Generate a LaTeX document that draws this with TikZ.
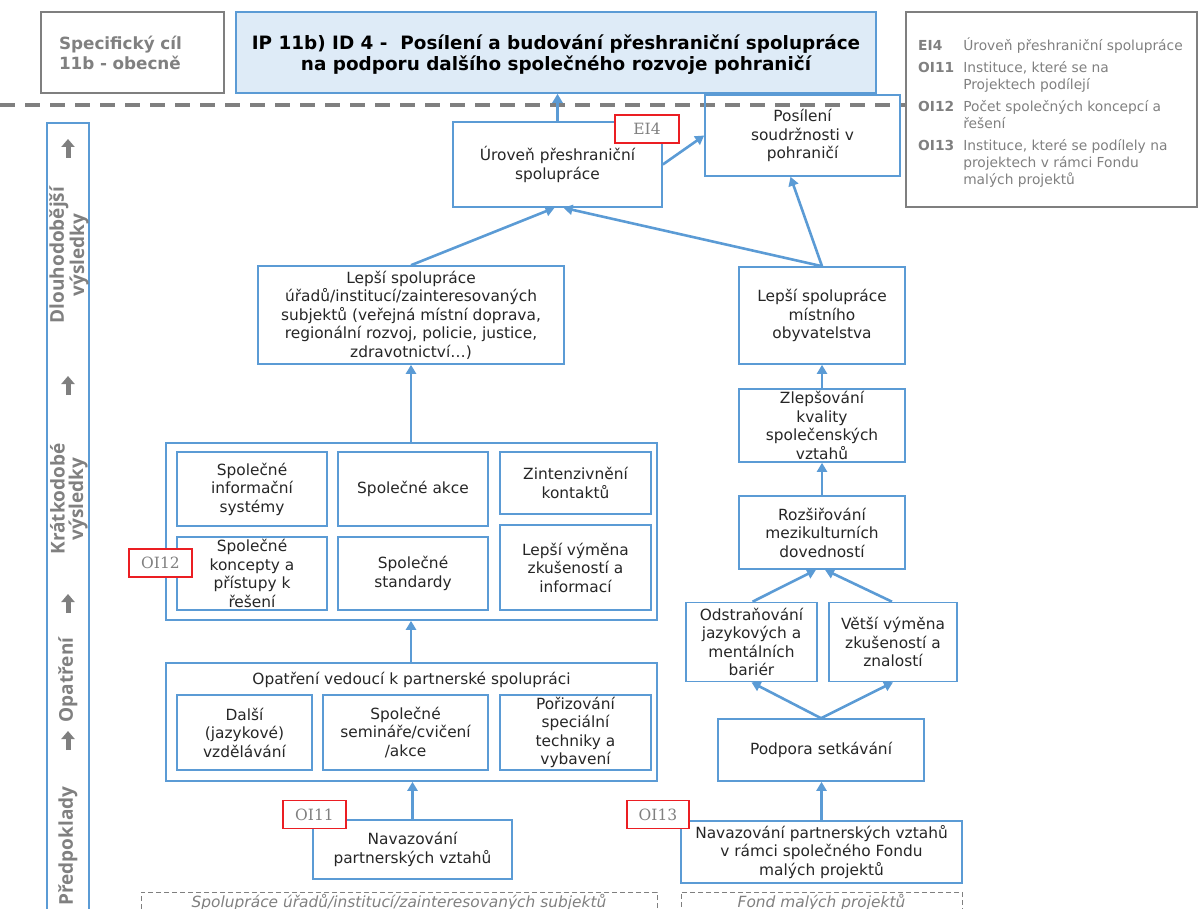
\documentclass[tikz,border=0pt]{standalone}
\usepackage{fontspec}
\setmainfont{DejaVu Sans}
\newfontfamily\bandfnt{Open Sans}
\newfontfamily\indfam{DejaVu Serif}
\usetikzlibrary{arrows.meta}

\definecolor{blu}{RGB}{91,155,213}
\definecolor{lblu}{RGB}{222,235,247}
\definecolor{grayln}{RGB}{127,127,127}
\definecolor{graytx}{RGB}{128,128,128}
\definecolor{redln}{RGB}{235,30,35}
\definecolor{txt}{RGB}{38,38,38}

\newcommand\txtfnt{\fontsize{15.4}{18.5}\selectfont}
\newcommand\titfnt{\bfseries\fontsize{18.4}{21}\selectfont}
\newcommand\specfnt{\bfseries\fontsize{16.8}{20}\selectfont}
\newcommand\legfnt{\fontsize{13.8}{17}\selectfont}
\newcommand\indfnt{\indfam\fontsize{15.5}{17}\selectfont}

\begin{document}
\begin{tikzpicture}[x=1pt,y=-1pt,
   box/.style={draw=blu,line width=1.6pt,inner sep=0pt,align=center,text=txt,font=\txtfnt},
   ind/.style={draw=redln,line width=1.6pt,fill=white,inner sep=0pt,text=graytx,font=\indfnt,
      minimum width=63,minimum height=28},
   arr/.style={draw=blu,line width=2.6pt,-{Triangle[length=9pt,width=10pt]}},
   uparr/.style={draw=grayln,line width=5pt,-{Triangle[length=8pt,width=13pt]}},
   band/.style={rotate=90,align=center,text=graytx,font=\bandfnt\bfseries\fontsize{19}{18.5}\selectfont},
   dbox/.style={draw=grayln,line width=1pt,dash pattern=on 5pt off 3pt,inner sep=0pt,
      text=graytx,font=\txtfnt\itshape}]
\useasboundingbox (0,0) rectangle (1198,909);

% top row
\node[draw=grayln,line width=1.6pt,minimum width=183,minimum height=81,inner xsep=18pt,
   text width=147,align=left,text=graytx,font=\specfnt] (spec) at (132.5,52.5)
   {Specifický cíl\\11b - obecně};
\node[draw=blu,fill=lblu,line width=1.6pt,minimum width=640,minimum height=81,inner sep=0pt,
   text=black,font=\titfnt] (tit) at (556,52.5)
   {\raisebox{-3.5pt}[\height][\depth]{\begin{tabular}{@{}c@{}}IP 11b) ID 4 -\ \ Posílení a budování přeshraniční spolupráce\\na podporu dalšího společného rozvoje pohraničí\end{tabular}}};
\node[draw=grayln,line width=1.6pt,minimum width=291,minimum height=195,inner sep=0pt] (leg) at (1051.5,109.5) {};
\node[anchor=north west,inner sep=0pt,font=\legfnt,text=graytx] (legt) at (918,38) {%
   \begin{tabular}{@{}l@{\hspace{9pt}}l@{}}
   \textbf{EI4} & Úroveň přeshraniční spolupráce\\[5pt]
   \textbf{OI11} & Instituce, které se na\\
    & Projektech podílejí\\[5pt]
   \textbf{OI12} & Počet společných koncepcí a\\
    & řešení\\[5pt]
   \textbf{OI13} & Instituce, které se podílely na\\
    & projektech v rámci Fondu\\
    & malých projektů
   \end{tabular}};

\coordinate (dl) at (0,105);
\draw[grayln,line width=3.5pt,dash pattern=on 15pt off 10pt] (dl) -- (dl -| leg.west);

% left band
\node[draw=blu,line width=1.6pt,minimum width=42,minimum height=800,anchor=north] (bnd) at (68,122) {};
\foreach \y/\n in {148/1,385/2,603/3,740/4}
   \coordinate (ua\n) at (68,\y);
\foreach \n in {1,...,4}
   \draw[uparr] ([yshift=-10pt]ua\n) -- ([yshift=9pt]ua\n);
\node[band] (b1) at (69,255) {Dlouhodobější\\výsledky};
\node[band] (b2) at (69,499) {Krátkodobé\\výsledky};
\node[band] (b3) at (68,680) {Opatření};
\node[band] (b4) at (68,846) {Předpoklady};

% long term results
\node[box,minimum width=209,minimum height=85] (ur) at (557.5,164.5) {Úroveň přeshraniční\\spolupráce};
\node[ind,minimum width=64] (ei4) at (647,129) {EI4};
\node[box,minimum width=195,minimum height=81] (pos) at (802.5,135.5) {Posílení\\soudržnosti v\\pohraničí};
\node[box,minimum width=306,minimum height=98] (lu) at (411,315)
   {Lepší spolupráce\\úřadů/institucí/zainteresovaných\\subjektů (veřejná místní doprava,\\regionální rozvoj, policie, justice,\\zdravotnictví…)};
\node[box,minimum width=166,minimum height=97] (lm) at (822,315.5) {Lepší spolupráce\\místního\\obyvatelstva};

% short term results
\node[draw=blu,line width=1.6pt,minimum width=491,minimum height=177] (g1) at (411.5,531.5) {};
\node[box,minimum width=150,minimum height=74] (s11) at (252,489) {Společné\\informační\\systémy};
\node[box,minimum width=150,minimum height=74] (s12) at (413,489) {Společné akce};
\node[box,minimum width=151,minimum height=62] (s13) at (575.5,483) {Zintenzivnění\\kontaktů};
\node[box,minimum width=150,minimum height=73] (s21) at (252,573.5) {Společné\\koncepty a\\přístupy k\\řešení};
\node[box,minimum width=150,minimum height=73] (s22) at (413,573.5) {Společné\\standardy};
\node[box,minimum width=151,minimum height=85] (s23) at (575.5,567.5) {Lepší výměna\\zkušeností a\\informací};
\node[ind] (oi12) at (160.5,563) {OI12};
\node[box,minimum width=166,minimum height=73] (zl) at (822,425.5) {Zlepšování\\kvality\\společenských\\vztahů};
\node[box,minimum width=166,minimum height=73] (rz) at (822,532.5) {Rozšiřování\\mezikulturních\\dovedností};

% measures
\node[draw=blu,line width=1.6pt,minimum width=491,minimum height=118] (g2) at (411.5,722) {};
\node[text=txt,font=\txtfnt,inner sep=0pt] (g2t) at (411.5,680) {Opatření vedoucí k partnerské spolupráci};
\node[box,minimum width=135,minimum height=75] (m1) at (244.5,732.5) {Další\\(jazykové)\\vzdělávání};
\node[box,minimum width=165,minimum height=75] (m2) at (405.5,732.5) {Společné\\semináře/cvičení\\/akce};
\node[box,minimum width=151,minimum height=75] (m3) at (575.5,732.5) {Pořizování\\speciální\\techniky a\\vybavení};
\node[box,minimum width=131,minimum height=79] (od) at (751.5,642) {Odstraňování\\jazykových a\\mentálních\\bariér};
\node[box,minimum width=128,minimum height=79] (vv) at (893,642) {Větší výměna\\zkušeností a\\znalostí};
\node[box,minimum width=206,minimum height=62] (po) at (821,750) {Podpora setkávání};

% preconditions
\node[box,minimum width=199,minimum height=59] (nv1) at (412.5,849.5) {Navazování\\partnerských vztahů};
\node[ind] (oi11) at (314.5,814.5) {OI11};
\node[box,minimum width=281,minimum height=62] (nv2) at (821.5,852) {Navazování partnerských vztahů\\v rámci společného Fondu\\malých projektů};
\node[ind,minimum width=62] (oi13) at (658,814.5) {OI13};
\node[dbox,minimum width=516,minimum height=20] (dsp) at (399,902) {Spolupráce úřadů/institucí/zainteresovaných subjektů};
\node[dbox,minimum width=281,minimum height=20] (dfo) at (821.5,902) {Fond malých projektů};

% connectors
\draw[arr] (ur.north) -- (ur.north |- tit.south);
\draw[arr] (ur.east) -- (pos.west);
\draw[arr] (lm.north) -- ([xshift=-12pt]pos.south);
\draw[arr] (lm.north) -- ([xshift=6pt]ur.south);
\draw[arr] (lu.north) -- ([xshift=-3pt]ur.south);
\draw[arr] (g1.north -| lu) -- (lu.south);
\draw[arr] (g2.north -| lu) -- (g1.south -| lu);
\draw[arr] (nv1.north) -- (nv1.north |- g2.south);
\draw[arr] (zl) -- (lm);
\draw[arr] (rz) -- (zl);
\draw[arr] ([xshift=1pt]od.north) -- ([xshift=-6pt]rz.south);
\draw[arr] ([xshift=-1pt]vv.north) -- ([xshift=3pt]rz.south);
\draw[arr] (po.north) -- (od.south);
\draw[arr] (po.north) -- (vv.south);
\draw[arr] (nv2.north) -- (nv2.north |- po.south);

\end{tikzpicture}
\end{document}
